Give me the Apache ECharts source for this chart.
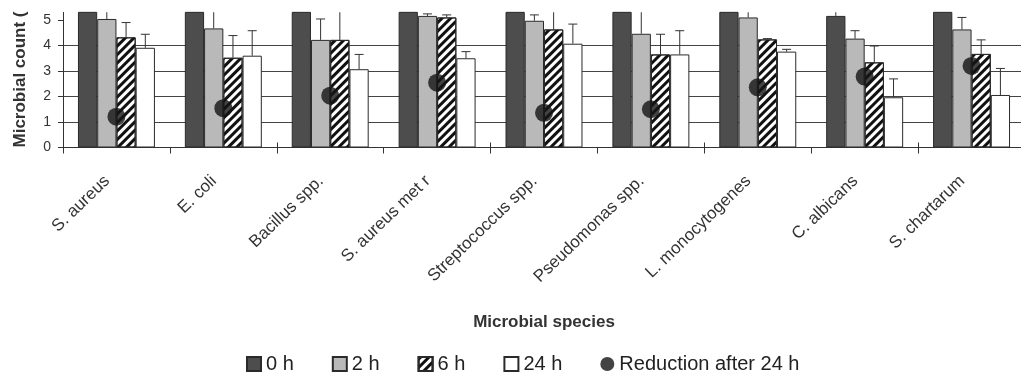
<!DOCTYPE html>
<html><head><meta charset="utf-8">
<script src="https://cdn.jsdelivr.net/npm/echarts@6/dist/echarts.min.js"></script>
<style>html,body{margin:0;padding:0;background:#fff}#c{width:1021px;height:374px}</style>
</head><body><div id="c"></div>
<script>
const categories = ['S. aureus','E. coli','Bacillus spp.','S. aureus met r','Streptococcus spp.','Pseudomonas spp.','L. monocytogenes','C. albicans','S. chartarum'];
const seriesNames = ['0 h','2 h','6 h','24 h'];
const reductionName = 'Reduction after 24 h';
const values0h  = [6.0, 6.1, 6.0, 6.2, 6.0, 6.1, 6.0, 5.16, 6.0];
const values2h  = [5.04, 4.67, 4.22, 5.16, 4.97, 4.46, 5.10, 4.27, 4.63];
const values6h  = [4.32, 3.52, 4.22, 5.10, 4.63, 3.65, 4.24, 3.34, 3.67];
const values24h = [3.91, 3.60, 3.07, 3.50, 4.07, 3.65, 3.76, 1.97, 2.06];
const errTop0h  = [6.4, 6.5, 6.4, 6.6, 6.4, 6.5, 6.4, 5.6, 6.4];
const errTop2h  = [5.6, 5.5, 5.04, 5.24, 5.20, 5.5, 5.5, 4.58, 5.10];
const errTop6h  = [4.90, 4.39, 5.5, 5.20, 5.5, 4.44, 4.27, 3.98, 4.22];
const errTop24h = [4.44, 4.58, 3.65, 3.76, 4.84, 4.58, 3.85, 2.69, 3.10];
const reduction = [1.21, 1.54, 2.03, 2.54, 1.36, 1.50, 2.36, 2.78, 3.20];
const yTicks = [0, 1, 2, 3, 4, 5];

const FONT = 'Liberation Sans, Arial, sans-serif';
const GAP = 0.28;
const barVals = [values0h, values2h, values6h, values24h];
const errTops = [errTop0h, errTop2h, errTop6h, errTop24h];
const barStyles = [
  {color:'#4d4d4d', borderColor:'#2a2a2a', borderWidth:1},
  {color:'#b9b9b9', borderColor:'#2a2a2a', borderWidth:1},
  {color:'#ffffff', borderColor:'#2a2a2a', borderWidth:1,
   decal:{symbol:'rect', symbolSize:1, dashArrayX:[1,0], dashArrayY:[3,3], rotation:-Math.PI/4, color:'#111'}},
  {color:'#ffffff', borderColor:'#2a2a2a', borderWidth:1}
];

const series = [];
seriesNames.forEach((n, k) => {
  series.push({type:'bar', name:n, data:barVals[k], barGap:'0%', barCategoryGap:(GAP*100)+'%',
    itemStyle:barStyles[k], z:2});
});
seriesNames.forEach((n, k) => {
  series.push({type:'custom', clip:true, z:3, silent:true,
    data: categories.map((c, i) => [i, barVals[k][i], errTops[k][i]]),
    encode:{x:0, y:[1,2]},
    renderItem: function(params, api){
      const i = api.value(0);
      const band = api.size([1,0])[0];
      const bw = band*(1-GAP)/4;
      const cx = api.coord([i,0])[0] + (k-1.5)*bw;
      const yb = api.coord([i, api.value(1)])[1];
      const yt = api.coord([i, api.value(2)])[1];
      const cap = 4.5;
      return {type:'group', children:[
        {type:'line', shape:{x1:cx,y1:yb,x2:cx,y2:yt}, style:{stroke:'#333', lineWidth:1}},
        {type:'line', shape:{x1:cx-cap,y1:yt,x2:cx+cap,y2:yt}, style:{stroke:'#333', lineWidth:1}}
      ]};
    }
  });
});
series.push({type:'scatter', name:reductionName, data:reduction, symbol:'circle', symbolSize:18,
  itemStyle:{color:'#141414'}, z:5});

const chart = echarts.init(document.getElementById('c'), null, {renderer:'canvas'});
chart.setOption({
  animation:false,
  textStyle:{fontFamily:FONT},
  grid:{left:63, right:-4, top:12.35, bottom:226.5, outerBoundsMode:'none', containLabel:false},
  legend:{left:241, top:349, itemWidth:14, itemHeight:14, itemGap:38, selectedMode:false,
    textStyle:{fontSize:20, color:'#222', fontFamily:FONT},
    data:[{name:'0 h', icon:'rect'},{name:'2 h', icon:'rect'},{name:'6 h', icon:'rect'},{name:'24 h', icon:'rect'},{name:reductionName, icon:'circle'}]},
  xAxis:[{type:'category', data:categories,
      axisLine:{lineStyle:{color:'#333'}},
      axisTick:{show:true, length:6, lineStyle:{color:'#333'}},
      axisLabel:{rotate:44, fontSize:17, color:'#333', margin:22, interval:0, fontFamily:FONT, padding:[0,13,0,0]},
      name:'Microbial species', nameLocation:'middle', nameGap:166,
      nameTextStyle:{fontWeight:'bold', fontSize:17, color:'#333', fontFamily:FONT}},
    {type:'category', data:categories, position:'bottom',
      axisLine:{show:false}, axisTick:{show:true, inside:true, length:5, lineStyle:{color:'#333'}},
      axisLabel:{show:false}, splitLine:{show:false}}],
  yAxis:[{type:'value', min:0, max:5.3, interval:1,
      axisLine:{show:true, lineStyle:{color:'#333'}},
      axisTick:{show:true, length:5, lineStyle:{color:'#333'}, customValues:yTicks},
      axisLabel:{customValues:yTicks, fontSize:14, color:'#333', margin:12, fontFamily:FONT},
      splitLine:{show:true, showMaxLine:false, lineStyle:{color:'#444', width:1}}},
    {type:'value', min:0, max:5.3, interval:1, position:'left', offset:43,
      axisLine:{show:false}, axisTick:{show:false}, axisLabel:{show:false}, splitLine:{show:false},
      name:'Microbial count (log CFU/ml)', nameLocation:'start', nameRotate:90, nameGap:0, nameMoveOverlap:false,
      nameTruncate:{maxWidth:137, ellipsis:''},
      nameTextStyle:{fontFamily:FONT, fontSize:17, fontWeight:'bold', color:'#333', align:'left', verticalAlign:'middle'}}],
  series:series
});
</script></body></html>
